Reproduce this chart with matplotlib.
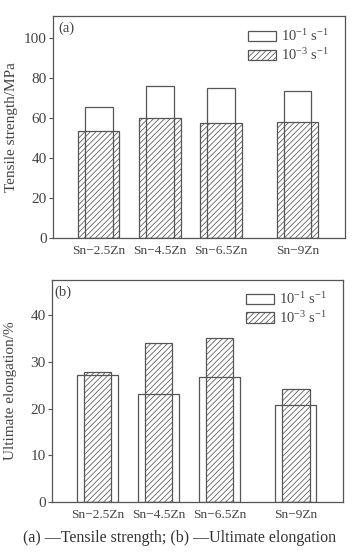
import matplotlib
matplotlib.use("Agg")
import matplotlib.pyplot as plt
from matplotlib.patches import Patch

plt.rcParams['font.family'] = ['Liberation Serif', 'DejaVu Serif']
plt.rcParams['mathtext.fontset'] = 'custom'
plt.rcParams['mathtext.rm'] = 'Liberation Serif'
plt.rcParams['mathtext.it'] = 'Liberation Serif:italic'
plt.rcParams['hatch.linewidth'] = 0.55
plt.rcParams['hatch.color'] = '#555555'

# Data
zn_content = [2.5, 4.5, 6.5, 9.0]
alloys = ['Sn\u22122.5Zn', 'Sn\u22124.5Zn', 'Sn\u22126.5Zn', 'Sn\u22129Zn']
strength_fast = [65.5, 76, 75, 73.5]      # 10^-1 s^-1
strength_slow = [53.5, 60, 57.5, 58]      # 10^-3 s^-1
elong_fast = [27.1, 23.1, 26.8, 20.8]     # 10^-1 s^-1
elong_slow = [27.9, 34.1, 35.0, 24.2]     # 10^-3 s^-1

label_fast = r'$10^{-1}$ s$^{-1}$'
label_slow = r'$10^{-3}$ s$^{-1}$'

TXT = '#444444'
LINE = '#555555'
FS = 10.5

fig = plt.figure(figsize=(3.6, 5.53), dpi=100)
axa = fig.add_axes([0.147, 0.570, 0.811, 0.401])
axb = fig.add_axes([0.144, 0.092, 0.809, 0.402])

def style(ax):
    for s in ax.spines.values():
        s.set_color(LINE)
        s.set_linewidth(0.9)
    ax.tick_params(axis='y', direction='out', length=3, width=0.8, color=LINE,
                   labelcolor=TXT, labelsize=FS + 0.5, pad=1.5)
    ax.tick_params(axis='x', length=0, labelcolor=TXT, labelsize=9.6, pad=5)
    ax.set_xticks(zn_content)
    ax.set_xticklabels(alloys)
    ax.set_xlim(1.0, 10.55)

# Panel (a)
axa.bar(zn_content, strength_slow, width=1.35, facecolor='white', edgecolor=LINE,
        linewidth=0.9, hatch='//////', zorder=2)
axa.bar(zn_content, strength_fast, width=0.9, facecolor='none', edgecolor=LINE,
        linewidth=0.9, zorder=3)
axa.set_ylim(0, 111)
axa.set_yticks([0, 20, 40, 60, 80, 100])
style(axa)
axa.set_ylabel('Tensile strength/MPa', color=TXT, fontsize=11)
axa.yaxis.set_label_coords(-0.118, 0.5)
axa.text(0.017, 0.946, '(a)', transform=axa.transAxes, ha='left', va='center',
         color=TXT, fontsize=FS)

# Panel (b)
axb.bar(zn_content, elong_slow, width=0.9, facecolor='white', edgecolor=LINE,
        linewidth=0.9, hatch='//////', zorder=2)
axb.bar(zn_content, elong_fast, width=1.35, facecolor='none', edgecolor=LINE,
        linewidth=0.9, zorder=3)
axb.set_ylim(0, 47.5)
axb.set_yticks([0, 10, 20, 30, 40])
style(axb)
axb.set_ylabel('Ultimate elongation/%', color=TXT, fontsize=11)
axb.yaxis.set_label_coords(-0.118, 0.5)
axb.text(0.01, 0.946, '(b)', transform=axb.transAxes, ha='left', va='center',
         color=TXT, fontsize=FS)

for ax, anchor in ((axa, (0.668, 0.945)), (axb, (0.668, 0.95))):
    handles = [Patch(facecolor='white', edgecolor=LINE, linewidth=0.9, label=label_fast),
               Patch(facecolor='white', edgecolor=LINE, linewidth=0.9, hatch='//////',
                     label=label_slow)]
    leg = ax.legend(handles=handles, loc='upper left', bbox_to_anchor=anchor,
                    frameon=False, fontsize=FS, handlelength=1.9, handleheight=0.7,
                    handletextpad=0.35, labelspacing=0.2, borderpad=0, borderaxespad=0)
    for t in leg.get_texts():
        t.set_color(TXT)

fig.text(0.5, 0.028, '(a) \u2014Tensile strength; (b) \u2014Ultimate elongation',
         ha='center', va='center', color='#333333', fontsize=11.5)

fig.savefig('out.png', dpi=100, facecolor='white')
